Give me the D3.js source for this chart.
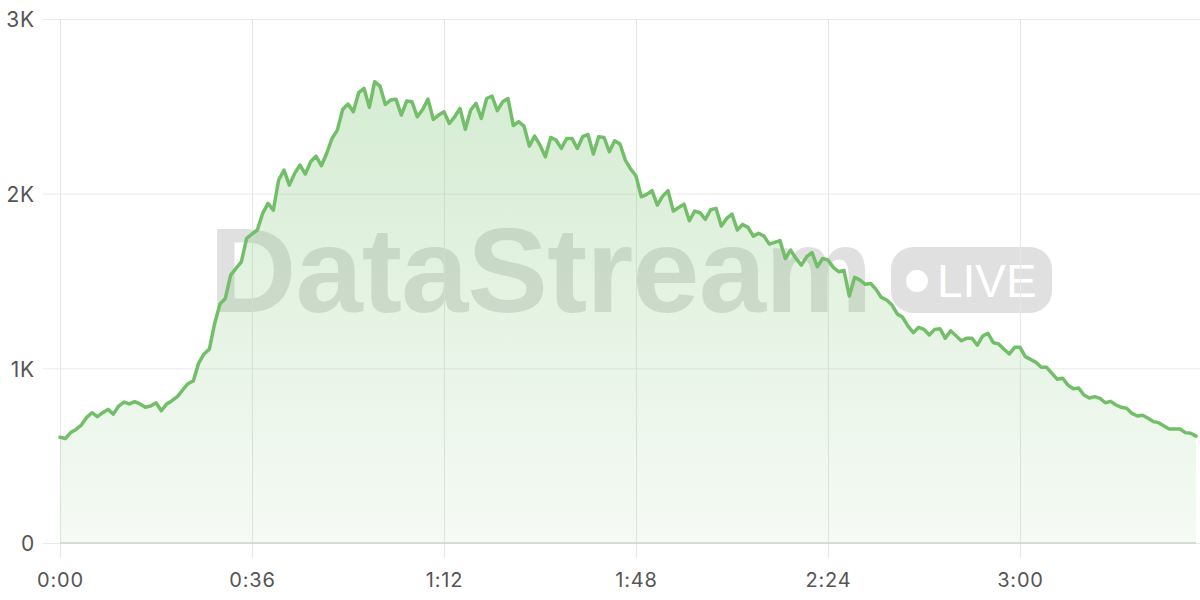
<!DOCTYPE html>
<html>
<head>
<meta charset="utf-8">
<script src="https://cdn.jsdelivr.net/npm/d3@7"></script>
<style>
  html, body { margin: 0; padding: 0; background: #fff; }
  svg { display: block; }
</style>
</head>
<body>
<svg id="chart" width="1200" height="600"></svg>
<script>
// ---- data (minutes since start, one sample per minute) ----
const values = [
  605, 598, 632, 650, 675, 719, 746, 723, 746, 765,
  738, 784, 807, 796, 809, 796, 777, 784, 803, 757,
  796, 815, 838, 876, 912, 928, 1030, 1082, 1110, 1257,
  1368, 1400, 1534, 1572, 1610, 1744, 1769, 1792, 1887, 1944,
  1906, 2078, 2135, 2049, 2116, 2164, 2112, 2183, 2215, 2160,
  2230, 2316, 2364, 2482, 2513, 2469, 2578, 2603, 2494, 2641,
  2616, 2511, 2536, 2541, 2450, 2530, 2526, 2440, 2482, 2541,
  2425, 2450, 2469, 2402, 2440, 2488, 2368, 2479, 2517, 2431,
  2545, 2559, 2475, 2526, 2545, 2390, 2412, 2387, 2272, 2330,
  2278, 2211, 2322, 2307, 2259, 2316, 2316, 2259, 2326, 2339,
  2227, 2326, 2322, 2240, 2303, 2284, 2192, 2141, 2101, 1982,
  1996, 2017, 1935, 1986, 2017, 1900, 1921, 1940, 1845, 1900,
  1891, 1853, 1908, 1916, 1815, 1858, 1883, 1792, 1824, 1807,
  1757, 1773, 1757, 1711, 1721, 1731, 1629, 1677, 1629, 1591,
  1639, 1662, 1582, 1629, 1620, 1578, 1553, 1560, 1414, 1521,
  1505, 1481, 1486, 1452, 1406, 1391, 1362, 1311, 1292, 1242,
  1204, 1235, 1223, 1191, 1223, 1227, 1172, 1215, 1187, 1158,
  1172, 1172, 1133, 1185, 1200, 1147, 1139, 1109, 1082, 1120,
  1120, 1067, 1051, 1034, 1006, 1006, 971, 937, 943, 904,
  883, 887, 847, 830, 838, 828, 803, 811, 790, 777,
  771, 742, 727, 731, 714, 695, 689, 670, 653, 653,
  653, 632, 628, 612
];
const minutes = values.map((v, i) => i);
const xTickValues = [0, 36, 72, 108, 144, 180];
const xTickLabels = ["0:00", "0:36", "1:12", "1:48", "2:24", "3:00"];
const yTickValues = [0, 1000, 2000, 3000];
const yTickLabels = ["0", "1K", "2K", "3K"];
const watermarkText = "DataStream";
const badgeText = "LIVE";

(function () {
const data = minutes.map((m, i) => ({ m, v: values[i] }));

// ---- layout ----
const W = 1200;
const plotLeft = 60, plotRight = 1196, plotTop = 19, plotBottom = 543;
const svg = d3.select("#chart");

const x = d3.scaleLinear().domain([0, minutes[minutes.length - 1]]).range([plotLeft, plotRight]);
const y = d3.scaleLinear().domain([0, 3000]).range([plotBottom, plotTop]);

const lineColor = "#73bf69";
const labelFont = "Inter, 'Noto Sans', sans-serif";

// ---- watermark (behind everything) ----
const wm = svg.append("g").attr("class", "watermark");
wm.append("text")
  .attr("x", 209).attr("y", 312)
  .attr("font-family", "'Liberation Sans', Arial, sans-serif")
  .attr("font-weight", 700)
  .attr("font-size", 121)
  .attr("letter-spacing", -1)
  .attr("fill", "#000").attr("fill-opacity", 0.12)
  .text(watermarkText);
wm.append("rect")
  .attr("x", 891).attr("y", 247).attr("width", 161).attr("height", 66).attr("rx", 22)
  .attr("fill", "#000").attr("fill-opacity", 0.12);
wm.append("circle").attr("cx", 917).attr("cy", 281).attr("r", 11).attr("fill", "#fff");
wm.append("text")
  .attr("x", 937).attr("y", 297)
  .attr("font-family", "'Liberation Sans', Arial, sans-serif")
  .attr("font-size", 46)
  .attr("fill", "#fff")
  .text(badgeText);

// ---- grid / axes ----
const yAxis = d3.axisLeft(y)
  .tickValues(yTickValues)
  .tickFormat((d, i) => yTickLabels[i])
  .tickSize(-(W - 43))
  .tickPadding(8);
const gy = svg.append("g").attr("transform", "translate(43,0)").call(yAxis);
gy.select(".domain").remove();
gy.selectAll(".tick line").attr("stroke", "#ebebeb").attr("stroke-width", 1);
gy.selectAll(".tick text")
  .attr("font-family", labelFont).attr("font-size", 21).attr("fill", "#555")
  .attr("letter-spacing", 0.8)
  .attr("dy", "0.38em");

const xAxis = d3.axisBottom(x)
  .tickValues(xTickValues)
  .tickFormat((d, i) => xTickLabels[i])
  .tickSize(558 - plotTop)
  .tickPadding(15);
const gx = svg.append("g").attr("transform", `translate(0,${plotTop})`).call(xAxis);
gx.select(".domain").remove();
gx.selectAll(".tick line").attr("stroke", "#e6e6e6").attr("stroke-width", 1);
gx.selectAll(".tick text")
  .attr("font-family", labelFont).attr("font-size", 20).attr("fill", "#555")
  .attr("letter-spacing", 0.8)
  .attr("dy", "0.71em");

// ---- area + line ----
const defs = svg.append("defs");
const grad = defs.append("linearGradient")
  .attr("id", "fillGrad")
  .attr("gradientUnits", "userSpaceOnUse")
  .attr("x1", 0).attr("x2", 0)
  .attr("y1", y(2700)).attr("y2", y(0));
grad.append("stop").attr("offset", "0%").attr("stop-color", lineColor).attr("stop-opacity", 0.3);
grad.append("stop").attr("offset", "100%").attr("stop-color", lineColor).attr("stop-opacity", 0.07);

const area = d3.area().x(d => x(d.m)).y0(y(0)).y1(d => y(d.v));
svg.append("path").datum(data).attr("d", area).attr("fill", "url(#fillGrad)");

// baseline axis line
svg.append("line")
  .attr("x1", x(0)).attr("x2", x(minutes[minutes.length - 1]))
  .attr("y1", y(0)).attr("y2", y(0))
  .attr("stroke", "#d2d2d2").attr("stroke-width", 1.5);

const line = d3.line().x(d => x(d.m)).y(d => y(d.v));
svg.append("path").datum(data).attr("d", line)
  .attr("fill", "none").attr("stroke", lineColor)
  .attr("stroke-width", 3.5).attr("stroke-linejoin", "round").attr("stroke-linecap", "round");
})();
</script>
</body>
</html>
